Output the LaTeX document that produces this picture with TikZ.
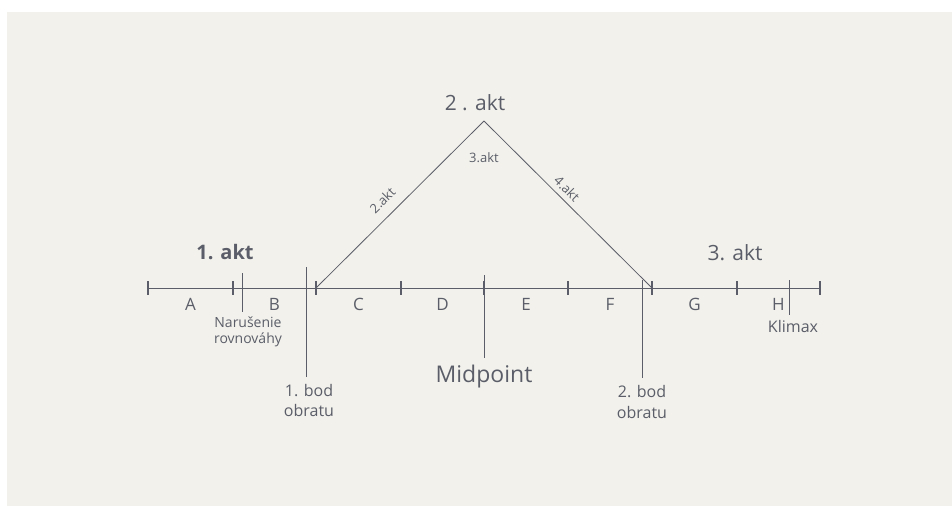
\documentclass[tikz,border=0pt]{standalone}
\usepackage{fontspec}
\setmainfont{Open Sans}
\usetikzlibrary{positioning,calc}
\definecolor{pencil}{HTML}{5B5E68}
\definecolor{paper}{HTML}{F2F1EC}

\begin{document}
\begin{tikzpicture}[
    x=1pt, y=-1pt,
    pen/.style={draw=pencil, line width=0.8pt},
    tickmark/.style={draw=pencil, line width=1.3pt},
    marker/.style={draw=pencil, line width=0.7pt},
    seg/.style={text=pencil, font=\fontsize{17}{19}\selectfont, inner sep=1pt},
    note/.style={text=pencil, font=\fontsize{14}{16}\selectfont, align=center, inner sep=1pt},
    act/.style={text=pencil, font=\fontsize{21}{24}\selectfont, inner sep=1pt},
    small/.style={text=pencil, font=\fontsize{13}{15}\selectfont, inner sep=1pt}
]
    % paper
    \fill[white] (0,0) rectangle (952,506);
    \fill[paper] (7,12) rectangle (952,506);

    % time line
    \foreach \x [count=\i from 0] in {148,233,316,401,484,568,652,737,820}
        \coordinate (t\i) at (\x,288);
    \draw[pen] (t0) -- (t8);
    \foreach \i in {0,...,8}
        \draw[tickmark] ($(t\i)+(0,-7)$) -- ($(t\i)+(0,7)$);

    % segments
    \foreach \a/\b/\name in {0/1/A,1/2/B,2/3/C,3/4/D,4/5/E,5/6/F,6/7/G,7/8/H}
        \path (t\a) -- (t\b) node[seg, midway, below=9pt] (seg\name) {\name};

    % triangle
    \coordinate (apex) at (484,121);
    \draw[pen] (t2) -- (apex) node[small, pos=0.46, sloped, above=9pt] (leftact) {2.akt};
    \draw[pen] (apex) -- (t6) node[small, pos=0.45, sloped, above=4pt] (rightact) {4.akt};
    \node[small, below=30pt of apex] (midact) {3.akt};

    % markers
    \coordinate (narTop) at (242,273);
    \coordinate (narBot) at (242,312);
    \coordinate (bod1Top) at (306,267);
    \coordinate (bod1Bot) at (306,377);
    \coordinate (midTop) at (484,275);
    \coordinate (midBot) at (484,358);
    \coordinate (bod2Top) at (642,280);
    \coordinate (bod2Bot) at (642,378);
    \coordinate (klimTop) at (789,280);
    \coordinate (klimBot) at (789,315);
    \draw[marker] (narTop) -- (narBot);
    \draw[marker] (bod1Top) -- (bod1Bot);
    \draw[marker] (midTop) -- (midBot);
    \draw[marker] (bod2Top) -- (bod2Bot);
    \draw[marker] (klimTop) -- (klimBot);

    \node[note, below=4pt of narBot, xshift=6pt] (nar) {Narušenie\\rovnováhy};
    \node[note, font=\fontsize{16}{20}\selectfont, below=6pt of bod1Bot, xshift=3pt] (bod1) {1. bod\\obratu};
    \node[act, font=\fontsize{23}{26}\selectfont, below=6pt of midBot] (mid) {Midpoint};
    \node[note, font=\fontsize{16}{21}\selectfont, below=6pt of bod2Bot] (bod2) {2. bod\\obratu};
    \node[note, font=\fontsize{16}{18}\selectfont, below=4pt of klimBot, xshift=4pt] (klim) {Klimax};

    % acts
    \node[act, font=\bfseries\fontsize{20}{22}\selectfont] (act1) at (225,252) {1. akt};
    \node[act, above=9pt of apex, xshift=-9pt] (act2) {2 . akt};
    \node[act] (act3) at (735,253) {3. akt};
\end{tikzpicture}
\end{document}
